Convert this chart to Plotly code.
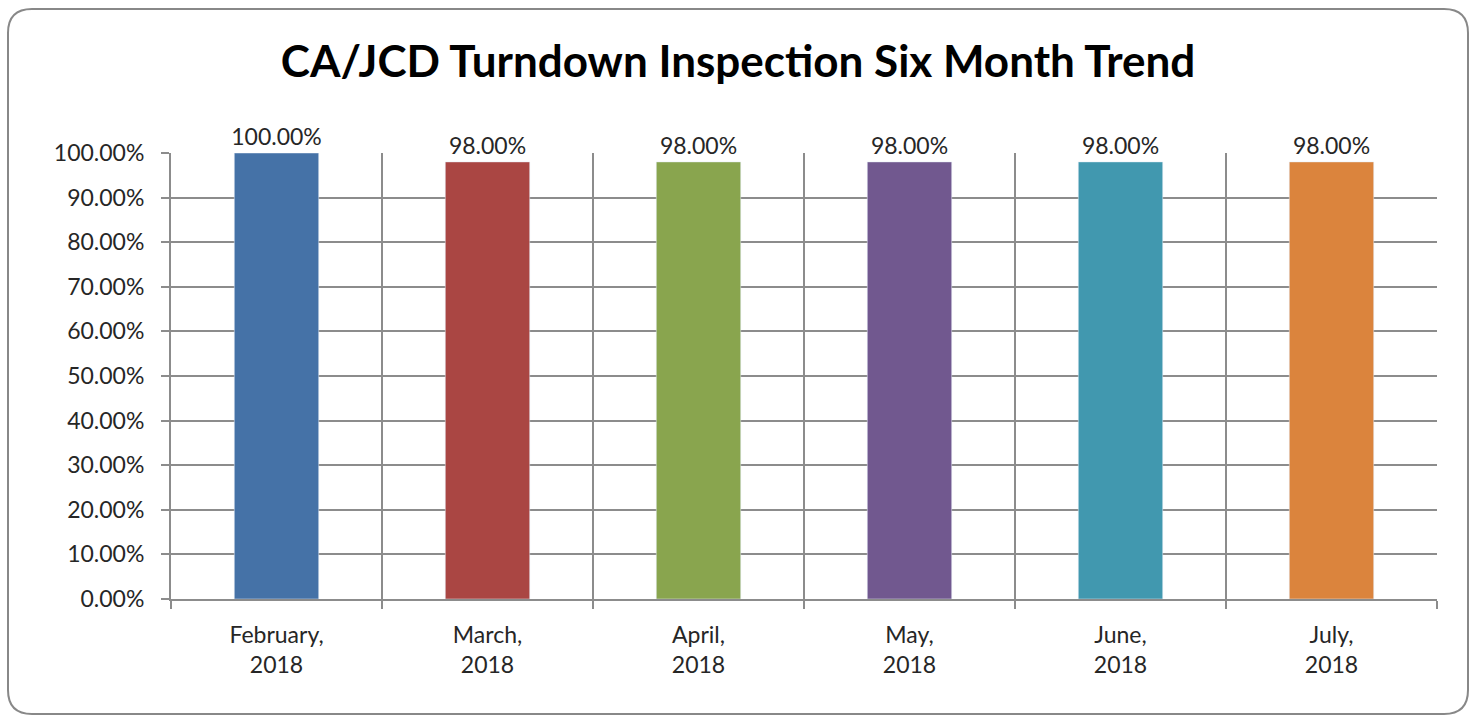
import plotly.graph_objects as go

categories = ["February,<br>2018", "March,<br>2018", "April,<br>2018", "May,<br>2018", "June,<br>2018", "July,<br>2018"]
values = [1.00, 0.98, 0.98, 0.98, 0.98, 0.98]
colors = ["#4572A7", "#AA4643", "#89A54E", "#71588F", "#4198AF", "#DB843D"]
ytick_vals = [i / 10 for i in range(11)]
ytick_text = [f"{v*100:.2f}%" for v in ytick_vals]

W, H = 1476, 717
L, R, T, B = 171, 39, 153, 118
pw, ph = W - L - R, H - T - B
FONT = "Lato, Open Sans, sans-serif"

def px_x(x):
    return (x - L) / pw

def px_y(y):
    return (H - B - y) / ph

fig = go.Figure(go.Bar(
    x=categories, y=values, marker_color=colors, width=0.40,
    text=[f"{v*100:.2f}%" for v in values], textposition="outside",
    textfont=dict(size=23, color="#262626", family=FONT),
    constraintext="none", cliponaxis=False,
))

# rounded chart border
x0, y0, x1, y1, r = 8, 9, 1468, 714, 24
path = (f"M {px_x(x0+r)},{px_y(y0)} L {px_x(x1-r)},{px_y(y0)} "
        f"Q {px_x(x1)},{px_y(y0)} {px_x(x1)},{px_y(y0+r)} "
        f"L {px_x(x1)},{px_y(y1-r)} Q {px_x(x1)},{px_y(y1)} {px_x(x1-r)},{px_y(y1)} "
        f"L {px_x(x0+r)},{px_y(y1)} Q {px_x(x0)},{px_y(y1)} {px_x(x0)},{px_y(y1-r)} "
        f"L {px_x(x0)},{px_y(y0+r)} Q {px_x(x0)},{px_y(y0)} {px_x(x0+r)},{px_y(y0)} Z")

fig.update_layout(
    width=W, height=H,
    margin=dict(l=L, r=R, t=T, b=B),
    paper_bgcolor="white", plot_bgcolor="white",
    showlegend=False,
    title=dict(text="<b>CA/JCD Turndown Inspection Six Month Trend</b>",
               x=0.5, xanchor="center", y=1 - 62 / H, yanchor="middle",
               font=dict(size=44, color="black", family=FONT)),
    font=dict(family=FONT, size=23, color="#262626"),
    shapes=[dict(type="path", path=path, xref="paper", yref="paper",
                 line=dict(color="#888888", width=2), fillcolor="rgba(0,0,0,0)", layer="below")],
)
fig.update_xaxes(
    type="category", tickson="boundaries", showgrid=True, gridcolor="#8c8c8c", gridwidth=2,
    ticks="outside", ticklen=8, tickwidth=2, tickcolor="#8c8c8c",
    showline=True, linecolor="#8c8c8c", linewidth=2,
    tickfont=dict(size=23, color="#262626"), range=[-0.5, 5.5], ticklabelstandoff=14,
)
fig.update_yaxes(
    range=[0, 1], tickvals=ytick_vals, ticktext=ytick_text,
    showgrid=True, gridcolor="#8c8c8c", gridwidth=2,
    ticks="outside", ticklen=8, tickwidth=2, tickcolor="#8c8c8c",
    showline=True, linecolor="#8c8c8c", linewidth=2,
    tickfont=dict(size=23, color="#262626"), zeroline=False, ticklabelstandoff=12,
)
fig.write_html("out.html", config={"displayModeBar": False},
               post_script="document.body.style.margin='0';")
